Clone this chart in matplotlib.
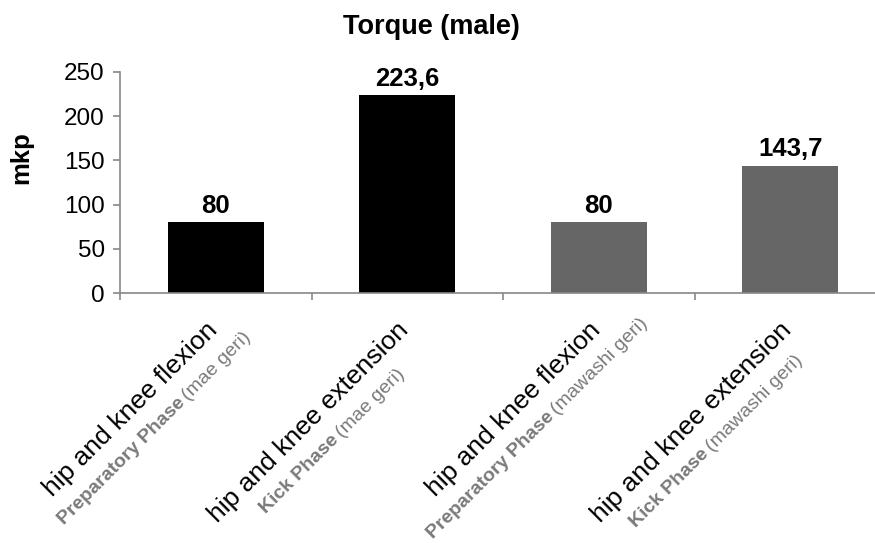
import numpy as np
import matplotlib
matplotlib.use("Agg")
import matplotlib.pyplot as plt
from matplotlib.font_manager import FontProperties
from matplotlib.textpath import TextPath

plt.rcParams['font.family'] = ['Liberation Sans', 'DejaVu Sans']

# data
movements = ["hip and knee flexion", "hip and knee extension",
             "hip and knee flexion", "hip and knee extension"]
phases = ["Preparatory Phase", "Kick Phase", "Preparatory Phase", "Kick Phase"]
kicks = ["(mae geri)", "(mae geri)", "(mawashi geri)", "(mawashi geri)"]
torque = [80, 223.6, 80, 143.7]
value_labels = ["80", "223,6", "80", "143,7"]
bar_colors = ["#000000", "#000000", "#666666", "#666666"]


def text_width(s, size, weight="normal"):
    tp = TextPath((0, 0), s, size=size,
                  prop=FontProperties(family="Liberation Sans", weight=weight))
    return tp.get_extents().width


fig = plt.figure(figsize=(8.75, 5.43), dpi=100)
ax = fig.add_axes([120 / 875, 250 / 543, 766 / 875, 221 / 543])
x = np.arange(len(torque))
ax.bar(x, torque, width=0.5, color=bar_colors)
ax.set_xlim(-0.5, 3.5)
ax.set_ylim(0, 250)

for s in ["top", "right"]:
    ax.spines[s].set_visible(False)
for s in ["left", "bottom"]:
    ax.spines[s].set_color("#888888")
    ax.spines[s].set_linewidth(1.2)

ax.set_yticks(np.arange(0, 251, 50))
ax.tick_params(axis="y", length=5, width=1.2, color="#888888", labelsize=17.5, pad=6)
ax.set_xticks(np.arange(-0.5, 3.6, 1.0))
ax.set_xticklabels([])
ax.tick_params(axis="x", length=5, width=1.2, color="#888888")

# value labels
for i, v in enumerate(torque):
    ax.annotate(value_labels[i], xy=(i, v), xytext=(0, 7), textcoords="offset points",
                ha="center", va="baseline", fontsize=18.5, fontweight="bold")

# rotated two-line category labels, second line centred on the first
theta = np.deg2rad(45)
u = np.array([np.cos(theta), np.sin(theta)])
n = np.array([np.sin(theta), -np.cos(theta)])
fs1, fsb, fss = 19, 14, 14
gap = 20
gray = "#7a7a7a"

for i in range(len(torque)):
    e1 = -18.2 * u + 21 * n
    ax.annotate(movements[i], xy=(i, 0), xytext=e1, textcoords="offset points",
                rotation=45, rotation_mode="anchor", ha="right", va="baseline",
                fontsize=fs1, annotation_clip=False)
    l1 = text_width(movements[i], fs1)
    c2 = e1 - (l1 / 2) * u + gap * n
    wb = text_width(phases[i], fsb, "bold")
    sp = 0.3 * fss
    ws = text_width(kicks[i], fss)
    l2 = wb + sp + ws
    s2 = c2 - (l2 / 2) * u
    ax.annotate(phases[i], xy=(i, 0), xytext=s2, textcoords="offset points",
                rotation=45, rotation_mode="anchor", ha="left", va="baseline",
                fontsize=fsb, fontweight="bold", color=gray, annotation_clip=False)
    s3 = s2 + (wb + sp) * u
    ax.annotate(kicks[i], xy=(i, 0), xytext=s3, textcoords="offset points",
                rotation=45, rotation_mode="anchor", ha="left", va="baseline",
                fontsize=fss, color=gray, annotation_clip=False)

fig.text(431 / 875, 1 - 27 / 543, "Torque (male)", ha="center", va="center",
         fontsize=19.5, fontweight="bold")
fig.text(21 / 875, 1 - 158 / 543, "mkp", rotation=90, ha="center", va="center",
         fontsize=18.5, fontweight="bold")

fig.savefig("out.png", dpi=100)
